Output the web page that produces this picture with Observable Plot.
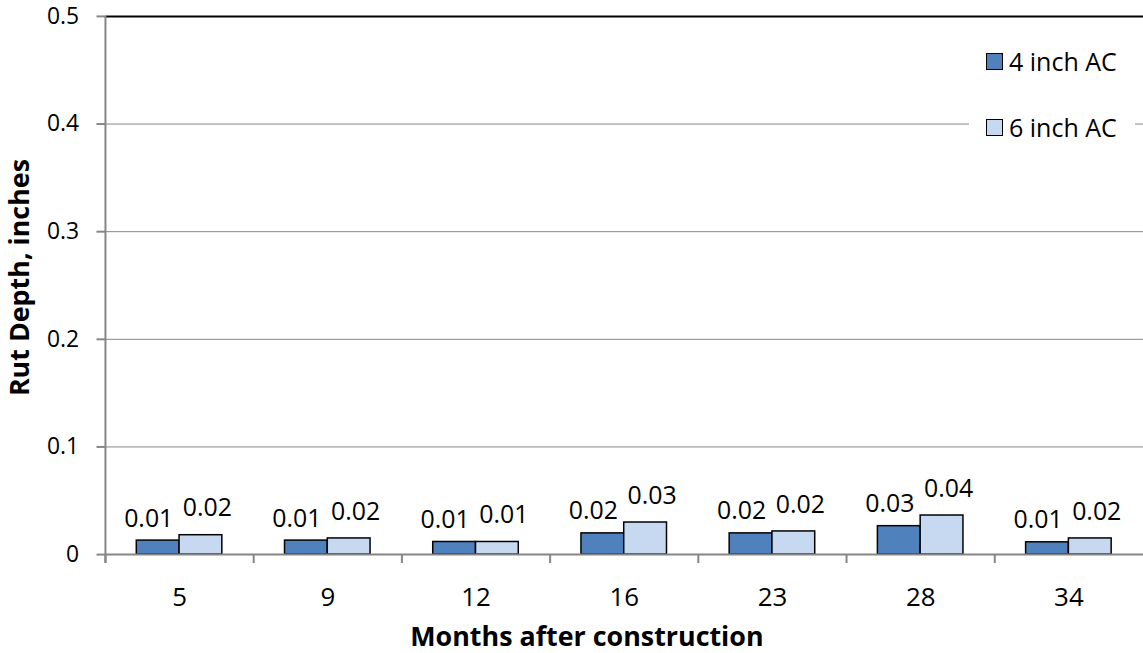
<!DOCTYPE html>
<html>
<head>
<meta charset="utf-8">
<script src="https://cdn.jsdelivr.net/npm/d3@7"></script>
<script src="https://cdn.jsdelivr.net/npm/@observablehq/plot@0.6"></script>
<style>
  html, body { margin: 0; padding: 0; background: #fff; overflow: hidden; }
  #wrap { position: relative; width: 1143px; height: 653px; overflow: hidden; font-family: "Open Sans", sans-serif; }
  #legend { position: absolute; left: 969px; top: 38px; width: 166px; height: 116px; background: #fff; }
  .item { position: absolute; left: 17px; display: flex; align-items: center; font-size: 25px; color: #000; white-space: nowrap; }
  .sw { width: 15px; height: 15px; border: 1.5px solid #000; margin-right: 6px; }
</style>
</head>
<body>
<div id="wrap">
  <div id="chart"></div>
  <div id="legend"></div>
</div>
<script>
const months = ["5", "9", "12", "16", "23", "28", "34"];
const series = ["4 inch AC", "6 inch AC"];
const rut4 = [0.013, 0.013, 0.0117, 0.0197, 0.0197, 0.0264, 0.0114];
const rut6 = [0.018, 0.015, 0.0117, 0.0298, 0.0215, 0.0363, 0.015];
const label4 = ["0.01", "0.01", "0.01", "0.02", "0.02", "0.03", "0.01"];
const label6 = ["0.02", "0.02", "0.01", "0.03", "0.02", "0.04", "0.02"];
const yTicks = [0, 0.1, 0.2, 0.3, 0.4, 0.5];
const colors = ["#4f81bd", "#c6d9f1"];

const data4 = months.map((m, i) => ({month: m, value: rut4[i], label: label4[i]}));
const data6 = months.map((m, i) => ({month: m, value: rut6[i], label: label6[i]}));

const half = 43;   // half of the group width (px)
const step = 149;  // band step (px)
const grid = "#868686";

const chart = Plot.plot({
  width: 1149,
  height: 653,
  marginLeft: 106,
  marginRight: 0,
  marginTop: 16,
  marginBottom: 96,
  style: {fontFamily: "'Open Sans', sans-serif", fontSize: "24px", color: "#000", background: "transparent", overflow: "visible"},
  x: {domain: months, paddingInner: 0.4228, paddingOuter: 0.2114, label: null},
  y: {domain: [0, 0.5], label: null},
  marks: [
    Plot.ruleY(yTicks.filter(d => d > 0 && d < 0.5), {stroke: grid, strokeWidth: 1}),
    Plot.ruleY([0.5], {stroke: "#000", strokeWidth: 2}),
    Plot.barY(data4, {x: "month", y: "value", fill: colors[0], stroke: "#000", strokeWidth: 1.5, insetRight: half, insetLeft: 0}),
    Plot.barY(data6, {x: "month", y: "value", fill: colors[1], stroke: "#000", strokeWidth: 1.5, insetLeft: half, insetRight: 0}),
    Plot.ruleY([0], {stroke: grid, strokeWidth: 2}),
    Plot.ruleX(months, {x: d => d, y1: () => 0, y2: () => 0, insetBottom: -9, dx: -step / 2, stroke: grid, strokeWidth: 2}),
    Plot.ruleX([months[0]], {x: d => d, y1: () => 0.5, y2: () => 0, insetBottom: -9, dx: -step / 2, stroke: grid, strokeWidth: 2}),
    Plot.axisY({ticks: yTicks, tickFormat: d => String(d), tickSize: 9, tickPadding: 18, stroke: grid, strokeWidth: 2, strokeOpacity: 1, fontSize: 23}),
    Plot.axisX({tickSize: 0, tickPadding: 33, fontSize: 26}),
    Plot.text(data4, {x: "month", y: "value", text: "label", lineAnchor: "bottom", dy: -14, dx: -31, fontSize: 25}),
    Plot.text(data6, {x: "month", y: "value", text: "label", lineAnchor: "bottom", dy: -19, dx: 28, fontSize: 25}),
    Plot.text(["Rut Depth, inches"], {frameAnchor: "left", textAnchor: "middle", lineAnchor: "middle", rotate: -90, dx: -86, dy: -8, fontWeight: "bold", fontSize: 27}),
    Plot.text(["Months after construction"], {frameAnchor: "bottom", textAnchor: "middle", lineAnchor: "bottom", dy: 92, dx: -38, fontWeight: "bold", fontSize: 27})
  ]
});
document.getElementById("chart").append(chart);

const legend = document.getElementById("legend");
series.forEach((s, i) => {
  const item = document.createElement("div");
  item.className = "item";
  item.style.top = (i === 0 ? 6 : 72) + "px";
  const sw = document.createElement("div");
  sw.className = "sw";
  sw.style.background = colors[i];
  const t = document.createElement("span");
  t.textContent = s;
  item.append(sw, t);
  legend.append(item);
});
</script>
</body>
</html>
